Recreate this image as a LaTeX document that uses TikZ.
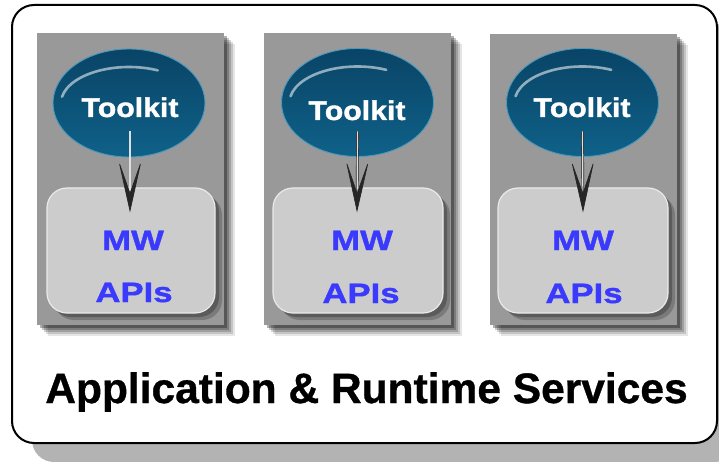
\documentclass[tikz,border=0pt]{standalone}
\usepackage{fontspec}
\setmainfont{Liberation Sans}[BoldFont={Liberation Sans Bold}]
\newfontfamily\titlefont[FakeBold=0.8]{Liberation Sans Bold}
\newfontfamily\tkfont[FakeStretch=1.12,FakeBold=1.4]{Liberation Sans Bold}
\newfontfamily\mwfont[FakeStretch=1.24,FakeBold=1.4]{Liberation Sans Bold}
\usetikzlibrary{arrows.meta,shapes.geometric}
\definecolor{panelgrey}{HTML}{999999}
\definecolor{boxgrey}{HTML}{CCCCCC}
\definecolor{boxrim}{HTML}{EAEAEA}
\definecolor{ellblue}{HTML}{0F6189}
\definecolor{elldark}{HTML}{094466}
\definecolor{ellrim}{HTML}{4A98BC}
\definecolor{apiblue}{HTML}{3A3AFF}
\definecolor{outershadow}{HTML}{B3B3B3}
\tikzset{
  outerbox/.style={rectangle, rounded corners=22pt, draw=black, line width=2pt, fill=white,
    minimum width=705pt, minimum height=438pt, inner sep=0pt,
    preaction={fill=outershadow, draw=none, transform canvas={xshift=20pt,yshift=-19pt}}},
  panel/.style={rectangle, fill=panelgrey, minimum width=187pt, minimum height=291pt, inner sep=0pt,
    preaction={fill=black, opacity=0.10, transform canvas={xshift=11pt,yshift=-11pt}},
    preaction={fill=black, opacity=0.14, transform canvas={xshift=9pt,yshift=-9pt}},
    preaction={fill=black, opacity=0.18, transform canvas={xshift=7pt,yshift=-7pt}},
    preaction={fill=black, opacity=0.22, transform canvas={xshift=5pt,yshift=-5pt}},
    preaction={fill=black, opacity=0.3, transform canvas={xshift=3pt,yshift=-3pt}}},
  tkell/.style={ellipse, minimum width=152pt, minimum height=108pt, inner sep=0pt,
    top color=elldark, bottom color=ellblue, draw=ellrim, line width=0.9pt},
  apibox/.style={rectangle, rounded corners=20pt, fill=boxgrey, draw=boxrim, line width=1.2pt,
    minimum height=125pt, inner sep=0pt,
    preaction={fill=black, opacity=0.2, draw=none, transform canvas={xshift=7pt,yshift=-7pt}},
    preaction={fill=black, opacity=0.25, draw=none, transform canvas={xshift=4pt,yshift=-4pt}}},
  tktext/.style={anchor=base, inner sep=0pt, text=white, font=\tkfont\fontsize{27}{30}\selectfont},
  mwtext/.style={anchor=base, inner sep=0pt, text=apiblue, font=\mwfont\fontsize{28}{32}\selectfont},
  titletext/.style={anchor=base, inner sep=0pt, text=black, font=\titlefont\fontsize{42.5}{48}\selectfont},
  gloss/.style={draw=white, opacity=0.55, line width=2.6pt, line cap=round},
  downarrow/.style={draw=black!85, line width=0.7pt, double=gray!25, double distance=1.2pt,
    -{Stealth[length=54pt,width=24pt,inset=34pt,fill=black!85]}},
}
\begin{document}
\begin{tikzpicture}[x=1pt,y=-1pt]
\useasboundingbox (0,0) rectangle (719,462);
\node[outerbox] (outer) at (364.5,224) {};
% panels
\node[panel] (p1) at (130.5,179) {};
\node[panel] (p2) at (357,179) {};
\node[panel] (p3) at (583,179.5) {};
% api boxes
\node[apibox, minimum width=168pt] (b1) at (131,250.5) {};
\node[apibox, minimum width=170pt] (b2) at (358,250.5) {};
\node[apibox, minimum width=170pt] (b3) at (583,250.5) {};
% ellipses
\node[tkell] (e1) at (129,103) {};
\node[tkell] (e2) at (357.5,102.5) {};
\node[tkell] (e3) at (582.5,102.5) {};
\draw[gloss] (e1.center) ++(190:68 and 36) arc[start angle=190, end angle=295, x radius=68, y radius=36];
\draw[gloss] (e2.center) ++(190:68 and 36) arc[start angle=190, end angle=295, x radius=68, y radius=36];
\draw[gloss] (e3.center) ++(190:68 and 36) arc[start angle=190, end angle=295, x radius=68, y radius=36];
% texts
\node[tktext] (t1) at (130,117) {Toolkit};
\node[tktext] (t2) at (357,120) {Toolkit};
\node[tktext] (t3) at (582,117) {Toolkit};
\node[mwtext] (m1) at (133,250) {MW};
\node[mwtext] (m2) at (362,250) {MW};
\node[mwtext] (m3) at (583,250) {MW};
\node[mwtext] (a1) at (134,302) {APIs};
\node[mwtext] (a2) at (361,303) {APIs};
\node[mwtext] (a3) at (584,303) {APIs};
\node[titletext] (title) at (366.5,403) {Application \& Runtime Services};
% arrows
\draw[downarrow] ([xshift=1pt,yshift=-28pt]e1.center) -- ([xshift=-1pt,yshift=-25pt]b1.north);
\draw[downarrow] ([yshift=-29pt]e2.center) -- ([xshift=-1pt,yshift=-25pt]b2.north);
\draw[downarrow] ([yshift=-29pt]e3.center) -- ([yshift=-25pt]b3.north);
\end{tikzpicture}
\end{document}
